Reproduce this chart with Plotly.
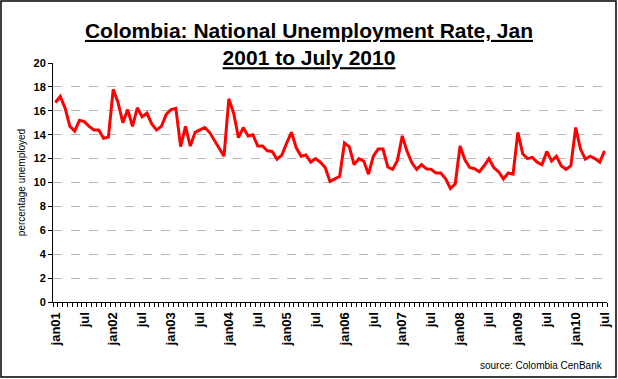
import plotly.graph_objects as go

# Monthly national unemployment rate, Jan 2001 .. Jul 2010 (115 months)
rate_2001 = [16.7, 17.2, 16.25, 14.7, 14.3, 15.2, 15.1, 14.7, 14.4, 14.4, 13.7, 13.8]
rate_2002 = [17.8, 16.7, 15.0, 16.1, 14.7, 16.25, 15.5, 15.8, 14.9, 14.4, 14.7, 15.7]
rate_2003 = [16.1, 16.2, 13.0, 14.7, 13.05, 14.2, 14.4, 14.6, 14.2, 13.5, 12.8, 12.2]
rate_2004 = [17.0, 15.8, 13.75, 14.6, 13.9, 14.0, 13.05, 13.05, 12.65, 12.6, 11.95, 12.3]
rate_2005 = [13.3, 14.2, 12.9, 12.2, 12.3, 11.7, 12.0, 11.7, 11.25, 10.1, 10.3, 10.5]
rate_2006 = [13.3, 13.0, 11.5, 12.0, 11.8, 10.7, 12.2, 12.8, 12.8, 11.3, 11.1, 11.85]
rate_2007 = [13.9, 12.6, 11.65, 11.1, 11.5, 11.15, 11.1, 10.8, 10.8, 10.3, 9.5, 9.9]
rate_2008 = [13.05, 11.9, 11.25, 11.15, 10.9, 11.4, 12.0, 11.25, 10.9, 10.3, 10.8, 10.7]
rate_2009 = [14.2, 12.4, 12.0, 12.1, 11.7, 11.5, 12.6, 11.8, 12.2, 11.4, 11.1, 11.4]
rate_2010 = [14.6, 12.8, 11.95, 12.2, 12.0, 11.7, 12.65]

rates = rate_2001 + rate_2002 + rate_2003 + rate_2004 + rate_2005 + rate_2006 + rate_2007 + rate_2008 + rate_2009 + rate_2010
months = list(range(len(rates)))

tick_labels = ["jan01", "jul", "jan02", "jul", "jan03", "jul", "jan04", "jul", "jan05", "jul",
               "jan06", "jul", "jan07", "jul", "jan08", "jul", "jan09", "jul", "jan10", "jul"]
tick_positions = [6 * k for k in range(len(tick_labels))]

W, H = 618, 379
L, R, T, B = 53, 11, 63, 77
pw, ph = W - L - R, H - T - B

fig = go.Figure()
fig.add_trace(go.Scatter(x=months, y=rates, mode="lines",
                         line=dict(color="#ff0000", width=3), hoverinfo="skip"))

fig.update_layout(
    width=W, height=H,
    margin=dict(l=L, r=R, t=T, b=B, pad=0),
    paper_bgcolor="white", plot_bgcolor="white",
    showlegend=False,
    font=dict(family="Liberation Sans, Arial, sans-serif", color="black"),
    title=dict(text="<b><u>Colombia: National Unemployment Rate, Jan</u></b><br><b><u>2001 to July 2010</u></b>",
               x=0.5, xanchor="center", y=0.9, yanchor="top",
               font=dict(size=21, family="Liberation Sans, Arial, sans-serif", color="black")),
    xaxis=dict(range=[-0.5, len(rates) - 0.5], tickmode="array", automargin=False,
               tickvals=tick_positions, ticktext=["<b>%s</b>" % t for t in tick_labels],
               tickangle=-90, tickfont=dict(size=13), ticks="", ticklabelstandoff=4,
               showgrid=False, zeroline=False, showline=True, linecolor="black", linewidth=1,
               minor=dict(ticks="outside", tick0=-0.5, dtick=1, ticklen=4, tickcolor="black", showgrid=False)),
    yaxis=dict(range=[0, 20], tick0=0, dtick=2, tickfont=dict(size=11), automargin=False,
               tickprefix="<b>", ticksuffix="</b>",
               ticks="outside", ticklen=4, tickcolor="black",
               showgrid=True, gridcolor="#b8b8b8", griddash="dash", gridwidth=1,
               zeroline=False, showline=True, linecolor="black", linewidth=1,
               title=dict(text="percentage unemployed", font=dict(size=10), standoff=6)),
)

fig.add_annotation(text="source: Colombia CenBank", xref="paper", yref="paper",
                   x=(605 - L) / pw, y=(T + ph - 365) / ph, xanchor="right", yanchor="middle",
                   showarrow=False, font=dict(size=10, color="black"))

# chart-area border
fig.add_shape(type="rect", xref="paper", yref="paper",
              x0=(1 - L) / pw, x1=(616 - L) / pw, y0=(T + ph - 377) / ph, y1=(T + ph - 1) / ph,
              line=dict(color="black", width=1.5), fillcolor="rgba(0,0,0,0)", layer="above")

fig.write_html("out.html", config={"displayModeBar": False},
               post_script="document.body.style.margin='0';")
